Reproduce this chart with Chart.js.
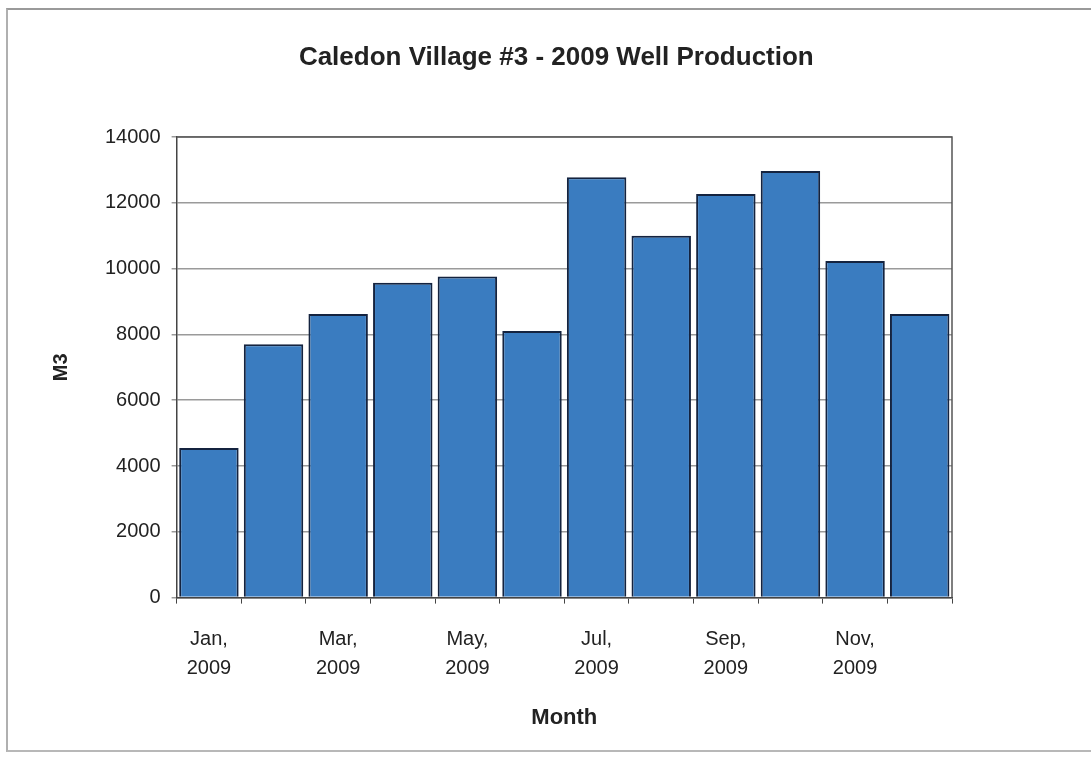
<!DOCTYPE html>
<html>
<head>
<meta charset="utf-8">
<script src="https://cdn.jsdelivr.net/npm/chart.js@4"></script>
<style>
  html, body { margin: 0; padding: 0; background: #fff; }
  #wrap { position: relative; width: 1091px; height: 764px; }
  #frame { position: absolute; left: 6px; top: 8px; width: 1085px; height: 744px;
           border-top: 2px solid #9a9a9a; border-left: 2px solid #b0b0b0; border-bottom: 2px solid #b8b8b8; box-sizing: border-box; }
  canvas { position: absolute; left: 0; top: 0; }
</style>
</head>
<body>
<div id="wrap">
  <div id="frame"></div>
  <canvas id="well_chart" width="1091" height="764"></canvas>
</div>
<script>
var months = ['Jan', 'Feb', 'Mar', 'Apr', 'May', 'Jun', 'Jul', 'Aug', 'Sep', 'Oct', 'Nov', 'Dec']
var year = '2009'
var production = [4550, 7700, 8620, 9570, 9760, 8100, 12780, 11000, 12270, 12970, 10230, 8620]
var chartTitle = 'Caledon Village #3 - 2009 Well Production'

// plot area outline + title centred over the plot, like the original spreadsheet chart
var plotBorder = {
    id: 'plotBorder',
    afterDraw: function (chart) {
        var a = chart.chartArea
        var ctx = chart.ctx
        ctx.save()
        ctx.strokeStyle = '#555'
        ctx.lineWidth = 1.5
        ctx.beginPath()
        ctx.moveTo(a.left, a.top)
        ctx.lineTo(a.right, a.top)
        ctx.lineTo(a.right, a.bottom)
        ctx.stroke()

        ctx.fillStyle = '#222'
        ctx.font = 'bold 26px "Liberation Sans"'
        ctx.textAlign = 'center'
        ctx.textBaseline = 'middle'
        ctx.fillText(chartTitle, (a.left + a.right) / 2 - 8, 58)
        ctx.restore()
    }
}

var ctx = document.getElementById('well_chart')

new Chart(ctx, {
    type: 'bar',
    data: {
        labels: months.map(m => m + ', ' + year),
        datasets: [{
            label: 'M3',
            data: production,
            backgroundColor: '#3a7cc0',
            borderColor: '#14233f',
            borderWidth: 2,
            categoryPercentage: 0.92,
            barPercentage: 1.0
        }]
    },
    options: {
        responsive: false,
        animation: false,
        layout: { padding: { left: 49, right: 139, top: 137, bottom: 33 } },
        plugins: {
            legend: { display: false },
            tooltip: { enabled: false },
            title: { display: false }
        },
        scales: {
            x: {
                grid: { display: true, drawOnChartArea: false, color: '#444', tickLength: 6 },
                border: { color: '#444', width: 1.5 },
                ticks: {
                    color: '#222',
                    font: { family: 'Liberation Sans', size: 20, lineHeight: 1.45 },
                    maxRotation: 0,
                    autoSkip: false,
                    padding: 21,
                    callback: function (val, i) {
                        return i % 2 == 0 ? [months[i] + ',', year] : ''
                    }
                },
                title: {
                    display: true,
                    text: 'Month',
                    color: '#222',
                    font: { family: 'Liberation Sans', size: 22, weight: 'bold', lineHeight: 1.2 },
                    padding: { top: 1, bottom: 0 }
                }
            },
            y: {
                min: 0,
                max: 14000,
                ticks: {
                    stepSize: 2000,
                    color: '#222',
                    font: { family: 'Liberation Sans', size: 20 },
                    padding: 11,
                    callback: function (val) { return String(val) }
                },
                grid: { color: '#9a9a9a', lineWidth: 1.5, tickLength: 5 },
                border: { color: '#444', width: 1.5 },
                title: {
                    display: true,
                    text: 'M3',
                    color: '#222',
                    font: { family: 'Liberation Sans', size: 20, weight: 'bold', lineHeight: 1.2 },
                    padding: { top: 0, bottom: 21 }
                }
            }
        }
    },
    plugins: [plotBorder]
})
</script>
</body>
</html>
